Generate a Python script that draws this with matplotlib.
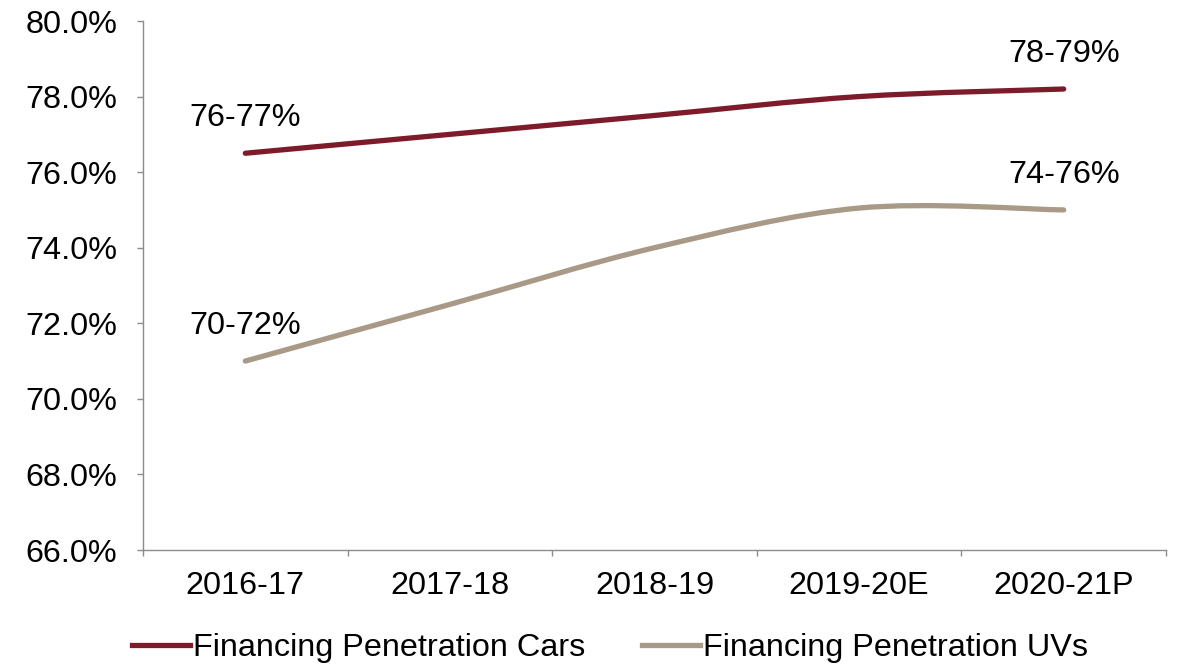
import matplotlib
matplotlib.use("Agg")
import matplotlib.pyplot as plt
import numpy as np
from matplotlib.path import Path
from matplotlib.patches import PathPatch
from matplotlib.lines import Line2D
from matplotlib.ticker import FuncFormatter, MultipleLocator, FixedLocator

# Data
years = ["2016-17", "2017-18", "2018-19", "2019-20E", "2020-21P"]
cars = [76.5, 77.0, 77.5, 78.0, 78.2]
uvs = [71.0, 72.5, 74.0, 75.05, 75.0]
cars_labels = {0: "76-77%", 4: "78-79%"}
uvs_labels = {0: "70-72%", 4: "74-76%"}
series_names = ["Financing Penetration Cars", "Financing Penetration UVs"]
colors = ["#7D1B2B", "#A89A86"]

plt.rcParams["font.family"] = ["Liberation Sans", "DejaVu Sans"]
FS = 23.3

fig = plt.figure(figsize=(11.91, 6.64), dpi=100)
ax = fig.add_axes([143 / 1191, 1 - 550 / 664, (1166 - 143) / 1191, (550 - 21) / 664])


def smooth_path(xs, ys):
    """Cubic Bezier through points with Catmull-Rom style tangents."""
    pts = np.column_stack([xs, ys]).astype(float)
    n = len(pts)
    verts = [pts[0]]
    codes = [Path.MOVETO]
    for i in range(n - 1):
        p0 = pts[max(i - 1, 0)]
        p1 = pts[i]
        p2 = pts[i + 1]
        p3 = pts[min(i + 2, n - 1)]
        c1 = p1 + (p2 - p0) / 6.0
        c2 = p2 - (p3 - p1) / 6.0
        verts += [c1, c2, p2]
        codes += [Path.CURVE4] * 3
    return Path(verts, codes)


x = np.arange(len(years))
for vals, col in zip([cars, uvs], colors):
    patch = PathPatch(smooth_path(x, vals), facecolor="none", edgecolor=col,
                      lw=3.8, capstyle="round", joinstyle="round", zorder=3)
    ax.add_patch(patch)

for labels, vals in [(cars_labels, cars), (uvs_labels, uvs)]:
    for i, txt in labels.items():
        ax.annotate(txt, (x[i], vals[i]), xytext=(0, 25.5), textcoords="offset points",
                    ha="center", va="center", fontsize=FS, color="black")

ax.set_xlim(-0.5, len(years) - 0.5)
ax.set_ylim(66, 80)
ax.yaxis.set_major_locator(MultipleLocator(2))
ax.yaxis.set_major_formatter(FuncFormatter(lambda v, p: f"{v:.1f}%"))

ax.set_xticks(x)
ax.set_xticklabels(years)
ax.xaxis.set_minor_locator(FixedLocator(np.arange(-0.5, len(years), 1.0)))

for side in ["top", "right"]:
    ax.spines[side].set_visible(False)
for side in ["left", "bottom"]:
    ax.spines[side].set_color("#8C8C8C")
    ax.spines[side].set_linewidth(1.0)

ax.tick_params(axis="y", which="major", length=4.5, width=1.0, color="#8C8C8C",
               labelsize=FS, pad=14)
ax.tick_params(axis="x", which="major", length=0, labelsize=FS, pad=15)
ax.tick_params(axis="x", which="minor", length=4.5, width=1.0, color="#8C8C8C")

handles = [Line2D([0], [0], color=c, lw=3.8) for c in colors]
fig.legend(handles, series_names, loc="center", bbox_to_anchor=(610 / 1191, 1 - 648 / 664),
           ncol=2, frameon=False, fontsize=FS, handlelength=1.78, handletextpad=0.1,
           columnspacing=1.75, borderaxespad=0, borderpad=0)

fig.savefig("out.png", dpi=100)
